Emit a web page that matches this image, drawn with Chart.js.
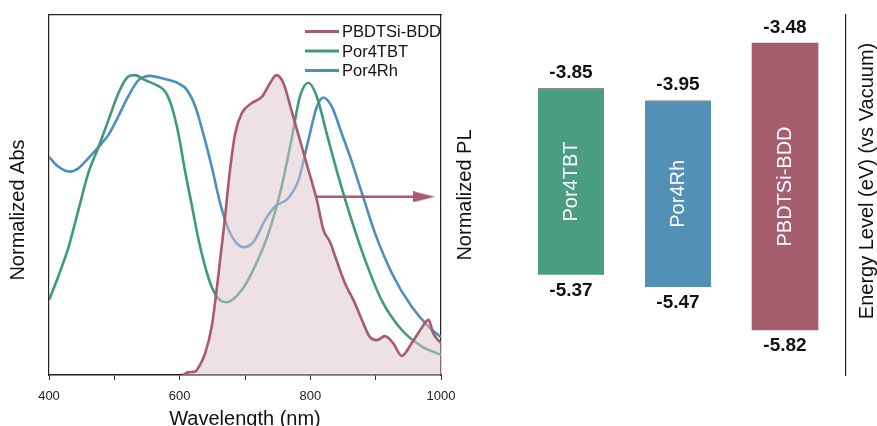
<!DOCTYPE html>
<html>
<head>
<meta charset="utf-8">
<script src="https://cdn.jsdelivr.net/npm/chart.js@4.4.1/dist/chart.umd.min.js"></script>
<style>
html,body{margin:0;padding:0;background:#fff;}
#wrap{position:relative;width:877px;height:426px;overflow:hidden;background:#fff;}
#c1{position:absolute;left:0;top:0;}
#c2{position:absolute;left:480px;top:0;}
</style>
</head>
<body>
<div id="wrap">
<canvas id="c1" width="480" height="426"></canvas>
<canvas id="c2" width="397" height="426"></canvas>
</div>
<script>
const FONT = "'Liberation Sans', Arial, Helvetica, sans-serif";

// ---------- Spectra (left panel) ----------
const wavelengthTicks = [400, 600, 800, 1000];
const seriesNames = ['PBDTSi-BDD', 'Por4TBT', 'Por4Rh'];

const plWavelength = [605,614,624,631,639,649,659,669,677,685,695,710,726,738,748,759,771,787,800,810,820,830,840,853,866,879,891,902,914,927,940,955,970,981,988,1000];
const plIntensity  = [0,0.008,0.010,0.028,0.060,0.134,0.273,0.431,0.569,0.671,0.727,0.755,0.773,0.810,0.833,0.810,0.736,0.634,0.551,0.486,0.403,0.370,0.319,0.255,0.208,0.153,0.106,0.097,0.108,0.088,0.053,0.088,0.130,0.153,0.116,0.088];

const tbtWavelength = [400,414,430,445,460,476,491,506,521,531,547,567,578,588,598,608,618,629,639,649,659,672,695,715,736,756,772,784,797,810,825,843,863,884,909,940,971,1000];
const tbtAbs        = [0.208,0.273,0.356,0.458,0.560,0.634,0.708,0.782,0.829,0.833,0.819,0.803,0.787,0.745,0.671,0.569,0.477,0.375,0.301,0.245,0.213,0.202,0.236,0.301,0.394,0.523,0.662,0.773,0.812,0.773,0.671,0.551,0.431,0.319,0.208,0.125,0.079,0.056];

const rhWavelength = [400,414,432,445,460,476,491,506,521,537,555,573,598,611,624,636,649,662,675,690,698,713,731,746,766,782,797,810,820,833,848,861,879,899,925,955,981,1000];
const rhAbs        = [0.606,0.579,0.565,0.574,0.602,0.634,0.667,0.718,0.773,0.819,0.831,0.824,0.810,0.792,0.745,0.671,0.579,0.477,0.403,0.361,0.355,0.370,0.431,0.468,0.491,0.542,0.653,0.745,0.771,0.745,0.671,0.606,0.505,0.394,0.282,0.190,0.134,0.105];

const arrowWavelength = [807, 974];
const arrowLevel      = [0.495, 0.495];

// ---------- Energy levels (right panel) ----------
const materials   = ['Por4TBT', 'Por4Rh', 'PBDTSi-BDD'];
const materialPos = [1, 2, 3];
const lumo = [-3.85, -3.95, -3.48];
const homo = [-5.37, -5.47, -5.82];

const RED = '#a85b6c', GREEN = '#3f9a7a', BLUE = '#4b8fbf';
const BAR_COLORS = ['#4a9c82', '#5290b6', '#a65d6d'];

const zip = (xs, ys) => xs.map((x, i) => ({x: x, y: ys[i]}));

// arrow head canvas
const head = document.createElement('canvas');
head.width = 22; head.height = 11;
(function(){
  const c = head.getContext('2d');
  c.fillStyle = RED;
  c.beginPath(); c.moveTo(0,0); c.lineTo(22,5.5); c.lineTo(0,11); c.closePath(); c.fill();
})();

const leftDecor = {
  id: 'leftDecor',
  afterDraw(chart) {
    const {ctx, chartArea: a} = chart;
    ctx.save();
    ctx.fillStyle = '#111';
    ctx.font = '20px ' + FONT;
    ctx.textAlign = 'center';
    ctx.textBaseline = 'middle';
    // left title
    ctx.save(); ctx.translate(a.left - 31, a.top + 195); ctx.rotate(-Math.PI/2);
    ctx.fillText('Normalized Abs', 0, 0); ctx.restore();
    // right title
    ctx.save(); ctx.translate(a.right + 24, a.top + 180); ctx.rotate(-Math.PI/2);
    ctx.fillText('Normalized PL', 0, 0); ctx.restore();
    // bottom title
    ctx.textBaseline = 'alphabetic';
    ctx.fillText('Wavelength (nm)', (a.left + a.right)/2, a.bottom + 50);
    // legend
    const cols = [RED, GREEN, BLUE];
    ctx.font = '16.5px ' + FONT;
    ctx.textAlign = 'left';
    ctx.textBaseline = 'middle';
    seriesNames.forEach((n, i) => {
      const y = a.top + 16.5 + i * 19.5;
      ctx.strokeStyle = cols[i]; ctx.lineWidth = 3;
      ctx.beginPath(); ctx.moveTo(a.right - 136, y); ctx.lineTo(a.right - 102, y); ctx.stroke();
      ctx.fillStyle = '#111';
      ctx.fillText(n, a.right - 99, y + 1);
    });
    ctx.restore();
  }
};

new Chart(document.getElementById('c1'), {
  type: 'line',
  data: {
    datasets: [
      { label: 'arrow', data: zip(arrowWavelength, arrowLevel), borderColor: RED, borderWidth: 2.5,
        pointRadius: [0, 8], pointStyle: head, pointBackgroundColor: RED, pointBorderWidth: 0, fill: false, tension: 0 },
      { label: seriesNames[0], data: zip(plWavelength, plIntensity), borderColor: RED, borderWidth: 2.6,
        pointRadius: 0, fill: 'origin', backgroundColor: 'rgba(222,196,203,0.5)', cubicInterpolationMode: 'monotone' },
      { label: seriesNames[1], data: zip(tbtWavelength, tbtAbs), borderColor: GREEN, borderWidth: 2.6,
        pointRadius: 0, fill: false, cubicInterpolationMode: 'monotone' },
      { label: seriesNames[2], data: zip(rhWavelength, rhAbs), borderColor: BLUE, borderWidth: 2.6,
        pointRadius: 0, fill: false, cubicInterpolationMode: 'monotone' }
    ]
  },
  options: {
    responsive: false, animation: false, events: [],
    layout: { padding: 0 },
    plugins: { legend: { display: false }, tooltip: { enabled: false } },
    scales: {
      x: {
        type: 'linear', position: 'bottom', min: 400, max: 1000,
        ticks: { stepSize: 100, autoSkip: false, maxRotation: 0, padding: 9, color: '#222',
          font: { family: FONT, size: 13 },
          callback: v => wavelengthTicks.includes(v) ? String(v) : '' },
        grid: { display: true, drawOnChartArea: false, drawTicks: true, tickLength: 5, color: '#333' },
        border: { display: true, color: '#222', width: 1.5 },
        afterFit: s => { s.height = 51; }
      },
      xTop: {
        type: 'linear', position: 'top', min: 400, max: 1000,
        ticks: { display: false }, grid: { display: false },
        border: { display: true, color: '#222', width: 1.2 },
        afterFit: s => { s.height = 15; }
      },
      y: {
        type: 'linear', position: 'left', min: 0, max: 1,
        ticks: { display: false }, grid: { display: false },
        border: { display: true, color: '#222', width: 1.2 },
        afterFit: s => { s.width = 49; }
      },
      yRight: {
        type: 'linear', position: 'right', min: 0, max: 1,
        ticks: { display: false }, grid: { display: false },
        border: { display: true, color: '#222', width: 1.2 },
        afterFit: s => { s.width = 39; }
      }
    }
  },
  plugins: [leftDecor]
});

const rightDecor = {
  id: 'rightDecor',
  afterDatasetsDraw(chart) {
    const {ctx} = chart;
    const meta = chart.getDatasetMeta(0);
    ctx.save();
    meta.data.forEach((el, i) => {
      const top = Math.min(el.y, el.base), bot = Math.max(el.y, el.base);
      ctx.fillStyle = '#111';
      ctx.font = 'bold 19px ' + FONT;
      ctx.textAlign = 'center'; ctx.textBaseline = 'middle';
      ctx.fillText(lumo[i].toFixed(2), el.x, top - 15.5);
      ctx.fillText(homo[i].toFixed(2), el.x, bot + 15.5);
      ctx.save();
      ctx.translate(el.x, (top + bot) / 2); ctx.rotate(-Math.PI/2);
      ctx.fillStyle = '#ffffff';
      ctx.font = '20px ' + FONT;
      ctx.fillText(materials[i], 0, 0);
      ctx.restore();
    });
    ctx.restore();
  },
  afterDraw(chart) {
    const {ctx, chartArea: a} = chart;
    ctx.save();
    ctx.fillStyle = '#111';
    ctx.font = '20px ' + FONT;
    ctx.textAlign = 'center'; ctx.textBaseline = 'middle';
    ctx.translate(a.right + 22, a.top + 166); ctx.rotate(-Math.PI/2);
    ctx.fillText('Energy Level (eV) (vs Vacuum)', 0, 0);
    ctx.restore();
  }
};

new Chart(document.getElementById('c2'), {
  type: 'bar',
  data: {
    datasets: [{
      label: 'Energy',
      data: materialPos.map((p, i) => ({x: p, y: [homo[i], lumo[i]]})),
      backgroundColor: BAR_COLORS,
      borderColor: ['#8a8a8a', '#8a8a8a', BAR_COLORS[2]],
      borderWidth: [{top: 2, left: 0, right: 0, bottom: 0}, {top: 2, left: 0, right: 0, bottom: 0}, 0],
      borderSkipped: false,
      barThickness: 66
    }]
  },
  options: {
    responsive: false, animation: false, events: [],
    layout: { padding: { top: 15, bottom: 51, left: 0, right: 0 } },
    plugins: { legend: { display: false }, tooltip: { enabled: false } },
    scales: {
      x: { type: 'linear', min: 0.1495, max: 3.567, display: false, offset: false },
      y: {
        type: 'linear', position: 'right', min: -6.187, max: -3.252,
        ticks: { display: false }, grid: { display: false },
        border: { display: true, color: '#222', width: 1.2 },
        afterFit: s => { s.width = 31.3; }
      }
    }
  },
  plugins: [rightDecor]
});
</script>
</body>
</html>
